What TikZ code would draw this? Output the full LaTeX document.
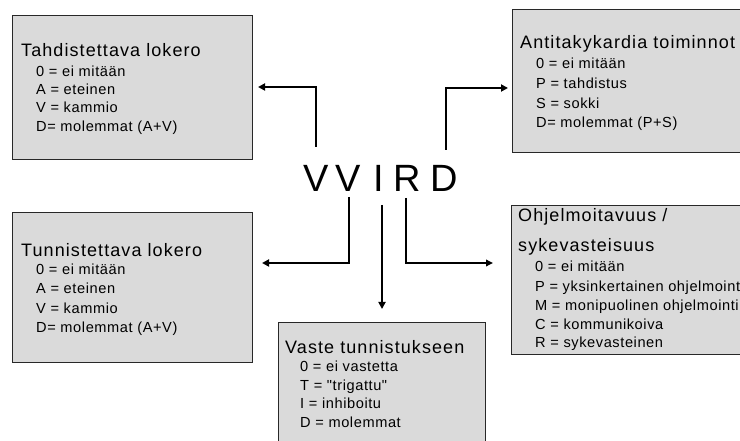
\documentclass[tikz,border=0pt]{standalone}
\usepackage{fontspec}
\setmainfont{Liberation Sans}
\newfontfamily\boxfont[LetterSpace=6]{Liberation Sans}
\newfontfamily\itemfont[LetterSpace=4]{Liberation Sans}
\usetikzlibrary{arrows.meta}
\definecolor{boxgray}{RGB}{218,218,218}
\definecolor{boxline}{RGB}{40,40,40}
\tikzset{
  box/.style={draw=boxline, fill=boxgray, line width=1.3pt, anchor=north west, inner sep=0pt},
  ttl/.style={anchor=base west, inner sep=0pt, font=\boxfont\fontsize{18}{20}\selectfont},
  itm/.style={anchor=base west, inner sep=0pt, font=\itemfont\fontsize{14.6}{16}\selectfont},
  letter/.style={anchor=base, inner sep=0pt, font=\fontsize{38}{40}\selectfont},
  conn/.style={line width=2.6pt, -{Triangle[length=7pt,width=7pt]}},
  connthin/.style={line width=1.8pt, -{Triangle[length=7pt,width=6.5pt]}}
}
\begin{document}
\begin{tikzpicture}[x=1pt,y=-1pt]
\useasboundingbox (0,0) rectangle (740,441);
\clip (0,0) rectangle (740,441);
\fill[white] (0,0) rectangle (740,441);

% boxes
\node[box, minimum width=240pt, minimum height=144pt] (b1) at (12,15) {};
\node[box, minimum width=240pt, minimum height=143pt] (b2) at (512,9) {};
\node[box, minimum width=240pt, minimum height=150pt] (b3) at (12,212) {};
\node[box, minimum width=207pt, minimum height=140pt] (b4) at (278,322) {};
\node[box, minimum width=240pt, minimum height=149pt] (b5) at (511,205) {};

% box 1
\node[ttl] (t1) at (21,56.5) {Tahdistettava lokero};
\node[itm] (t1a) at (36,77) {0 = ei mitään};
\node[itm] (t1b) at (36,95) {A = eteinen};
\node[itm] (t1c) at (36,113) {V = kammio};
\node[itm] (t1d) at (36,132) {D= molemmat (A+V)};

% box 2
\node[ttl] (t2) at (520,48.5) {Antitakykardia toiminnot};
\node[itm] (t2a) at (536,69) {0 = ei mitään};
\node[itm] (t2b) at (536,89) {P = tahdistus};
\node[itm] (t2c) at (536,109) {S = sokki};
\node[itm] (t2d) at (536,128) {D= molemmat (P+S)};

% box 3
\node[ttl] (t3) at (21,256.5) {Tunnistettava lokero};
\node[itm] (t3a) at (36,275) {0 = ei mitään};
\node[itm] (t3b) at (36,294) {A = eteinen};
\node[itm] (t3c) at (36,313) {V = kammio};
\node[itm] (t3d) at (36,332) {D= molemmat (A+V)};

% box 4
\node[ttl] (t4) at (285,353.5) {Vaste tunnistukseen};
\node[itm] (t4a) at (300,371) {0 = ei vastetta};
\node[itm] (t4b) at (300,390) {T = "trigattu"};
\node[itm] (t4c) at (300,408) {I = inhiboitu};
\node[itm] (t4d) at (300,427) {D = molemmat};

% box 5
\node[ttl] (t5) at (518,221.5) {Ohjelmoitavuus /};
\node[ttl] (t5x) at (518,251.5) {sykevasteisuus};
\node[itm] (t5a) at (535,272) {0 = ei mitään};
\node[itm] (t5b) at (535,291) {P = yksinkertainen ohjelmointi};
\node[itm] (t5c) at (535,311) {M = monipuolinen ohjelmointi};
\node[itm] (t5d) at (535,330) {C = kommunikoiva};
\node[itm] (t5e) at (535,348) {R = sykevasteinen};

% code letters
\node[letter] (lv1) at (316,192) {V};
\node[letter] (lv2) at (348,192) {V};
\node[letter] (li) at (379,192) {I};
\node[letter] (lr) at (407,192) {R};
\node[letter] (ld) at (444,192) {D};

% connector end points
\coordinate (s1) at (316,147);
\coordinate (e1) at (258,87);
\coordinate (s2) at (446,150);
\coordinate (e2) at (508,88);
\coordinate (s3) at (349,197);
\coordinate (e3) at (262,263);
\coordinate (s4) at (382,205);
\coordinate (e4) at (382,309);
\coordinate (s5) at (406,198);
\coordinate (e5) at (493,263);

\draw[conn] (s1) |- (e1);
\draw[conn] (s2) |- (e2);
\draw[conn] (s3) |- (e3);
\draw[conn] (s4) -- (e4);
\draw[connthin] (s5) |- (e5);
\end{tikzpicture}
\end{document}
